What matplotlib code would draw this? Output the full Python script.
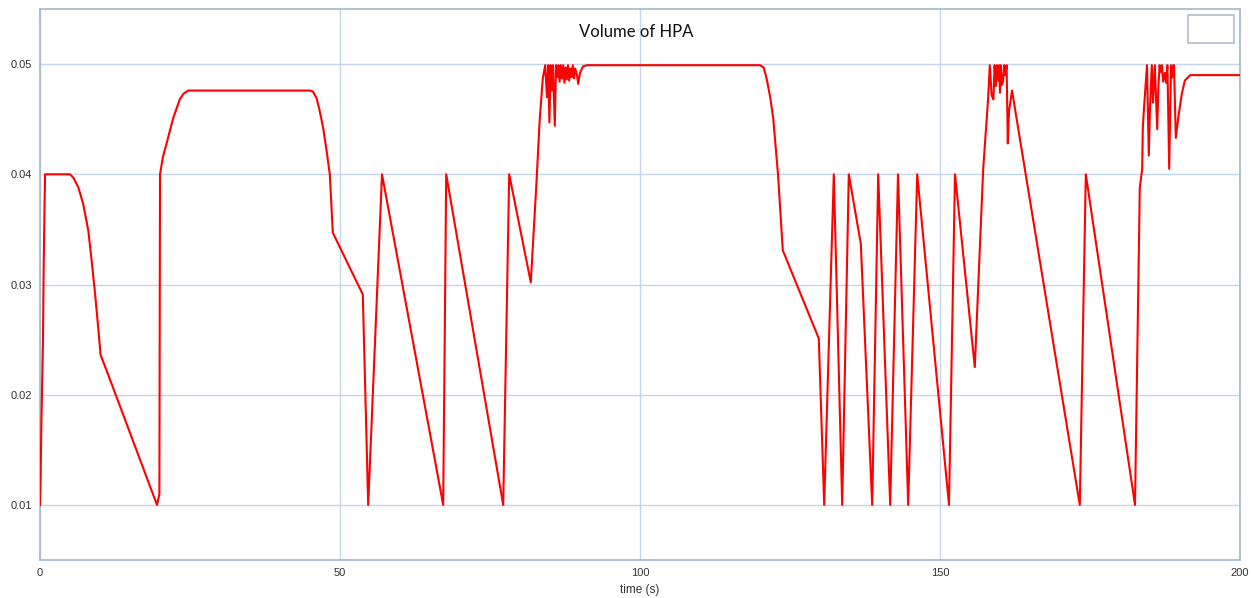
import matplotlib
matplotlib.use("Agg")
import matplotlib.pyplot as plt
from matplotlib.patches import Rectangle

# Simulated HPA volume over time
time_s = [
    0.0, 0.1, 0.25, 0.5, 0.6, 0.75, 0.85, 5.0, 5.55, 6.4, 7.2, 8.05, 8.6,
    9.17, 9.7, 10.1, 11.1, 19.5, 19.9, 20.0, 20.5, 21.1, 22.2, 23.3, 23.9,
    24.7, 45.0, 45.5, 46.1, 46.6, 47.2, 47.8, 48.3, 48.8,
    53.8, 54.7, 57.0, 67.2, 67.7, 77.2, 78.2, 81.8, 82.7, 83.3, 83.8,
    84.2, 84.5, 84.7, 84.9, 85.1, 85.3, 85.5, 85.8, 86.0, 86.2, 86.4, 86.6,
    86.8, 87.0, 87.2, 87.4, 87.6, 87.8, 88.0, 88.2, 88.4, 88.6, 88.8, 89.0,
    89.2, 89.5, 89.7, 90.0, 90.5, 91.2,
    120.0, 120.6, 121.1, 121.7, 122.2, 123.0, 123.8, 129.8, 130.7, 132.3,
    133.7, 134.8, 136.8, 138.7, 139.7, 141.7, 143.0, 144.7, 146.2, 151.5,
    152.5, 155.8, 157.2, 158.0, 158.3, 158.6, 158.9, 159.1, 159.3, 159.5,
    159.7, 159.85, 160.0, 160.15, 160.3, 160.5, 160.7, 160.9, 161.1, 161.3,
    161.5, 162.0, 173.3, 174.3, 182.5, 183.3, 183.7, 183.8, 184.0, 184.5,
    184.8, 185.0, 185.3, 185.5, 185.8, 186.2, 186.4, 186.6, 186.8, 187.0,
    187.2, 187.5, 187.7, 187.9, 188.2, 188.5, 188.7, 188.9, 189.0, 189.3,
    189.7, 190.3, 190.8, 191.7, 200.0,
]
volume = [
    0.0100, 0.0125, 0.0180, 0.0250, 0.0310, 0.0370, 0.0400, 0.0400, 0.0397, 0.0388, 0.0373, 0.0349, 0.0322,
    0.0292, 0.0261, 0.0236, 0.0222, 0.0100, 0.0110, 0.0400, 0.0416, 0.0428, 0.0451, 0.0468, 0.0473,
    0.0476, 0.0476, 0.0475, 0.0469, 0.0458, 0.0442, 0.0420, 0.0400, 0.0347,
    0.0291, 0.0100, 0.0400, 0.0100, 0.0400, 0.0100, 0.0400, 0.0302, 0.0388, 0.0451, 0.0487,
    0.0499, 0.0470, 0.0499, 0.0447, 0.0499, 0.0476, 0.0499, 0.0444, 0.0499, 0.0488, 0.0499, 0.0484,
    0.0499, 0.0487, 0.0499, 0.0483, 0.0497, 0.0486, 0.0499, 0.0485, 0.0496, 0.0488, 0.0499, 0.0487,
    0.0496, 0.0490, 0.0482, 0.0492, 0.0498, 0.0499,
    0.0499, 0.0497, 0.0487, 0.0470, 0.0451, 0.0400, 0.0331, 0.0251, 0.0100, 0.0400,
    0.0100, 0.0400, 0.0337, 0.0100, 0.0400, 0.0100, 0.0400, 0.0100, 0.0400, 0.0100,
    0.0400, 0.0225, 0.0405, 0.0467, 0.0499, 0.0472, 0.0468, 0.0499, 0.0480, 0.0499,
    0.0485, 0.0499, 0.0474, 0.0499, 0.0481, 0.0484, 0.0499, 0.0490, 0.0499, 0.0428,
    0.0457, 0.0476, 0.0100, 0.0400, 0.0100, 0.0388, 0.0405, 0.0442, 0.0460, 0.0499,
    0.0417, 0.0460, 0.0499, 0.0465, 0.0499, 0.0441, 0.0480, 0.0499, 0.0493, 0.0499,
    0.0484, 0.0492, 0.0483, 0.0499, 0.0405, 0.0499, 0.0488, 0.0499, 0.0499, 0.0433,
    0.0451, 0.0473, 0.0485, 0.0490, 0.0490,
]

x_ticks = [0, 50, 100, 150, 200]
y_ticks = [0.01, 0.02, 0.03, 0.04, 0.05]
y_tick_labels = ["0.01", "0.02", "0.03", "0.04", "0.05"]

W, H = 1252, 598
fig = plt.figure(figsize=(W / 100, H / 100), dpi=100)
ax = fig.add_axes([40 / W, 38 / H, 1200 / W, 551 / H])

ax.plot(time_s, volume, color="#ff0000", linewidth=1.5, zorder=3)

ax.set_xlim(0, 200)
ax.set_ylim(0.005, 0.055)
ax.set_xticks(x_ticks)
ax.set_yticks(y_ticks)
ax.set_yticklabels(y_tick_labels)
ax.grid(True, color="#c3d6ec", linewidth=1.0)
ax.set_axisbelow(True)

for side in ("left", "bottom", "top", "right"):
    ax.spines[side].set_color("#a3b7cd")
    ax.spines[side].set_linewidth(1.2)

ax.tick_params(axis="both", length=0, labelsize=8, labelcolor="#333333",
               pad=6)
for lab in ax.get_xticklabels() + ax.get_yticklabels():
    lab.set_family("Liberation Sans")

ax.set_xlabel("time (s)", fontsize=8.5, color="#333333",
              family="Liberation Sans", labelpad=4)

ax.text(0.497, 0.958, "Volume of HPA", transform=ax.transAxes,
        ha="center", va="center", fontsize=12, family="Lato", color="#111111")

# empty legend frame
ax.add_patch(Rectangle((1188 / W, (H - 43) / H), 46 / W, 28 / H,
                       transform=fig.transFigure, fill=False,
                       edgecolor="#b4c4d4", linewidth=1.3, zorder=5))

fig.savefig("out.png", dpi=100, facecolor="white")
